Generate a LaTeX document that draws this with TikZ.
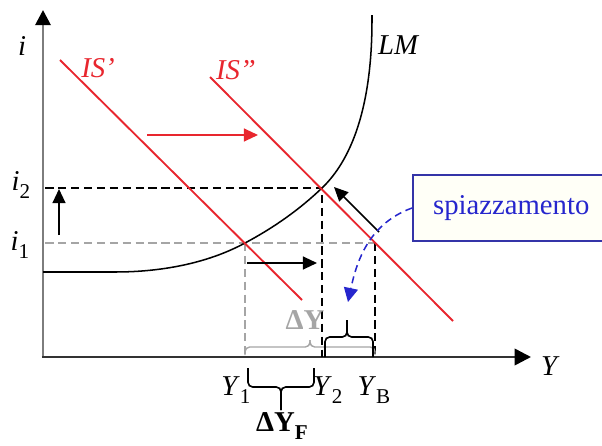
\documentclass[tikz,border=0pt]{standalone}
\usepackage{fontspec}
\setmainfont{Liberation Serif}
\usetikzlibrary{arrows.meta, positioning, calc}

\definecolor{isred}{RGB}{232,38,46}
\definecolor{boxblue}{RGB}{52,52,168}
\definecolor{txtblue}{RGB}{38,38,205}
\definecolor{axgray}{RGB}{125,125,125}
\definecolor{dimgray}{RGB}{165,165,165}

\newcommand{\lowsub}[1]{\raisebox{-0.3em}{\fontsize{18}{18}\selectfont #1}}
% square brace: [style]{x1}{x2}{xtip}{ybase}{yflat}{ytip}
\newcommand{\sqbrace}[7][]{%
  \draw[#1, rounded corners=4pt] (#2,#5) -- (#2,#6) -- (#4,#6) -- (#4,#7);
  \draw[#1, rounded corners=4pt] (#4,#7) -- (#4,#6) -- (#3,#6) -- (#3,#5);}

\begin{document}
\begin{tikzpicture}[x=0.03cm, y=-0.03cm,
  lbl/.style={font=\fontsize{24.5}{28}\selectfont, inner sep=1pt},
  var/.style={lbl, font=\fontsize{24.5}{28}\selectfont\itshape},
  isline/.style={isred, line width=1.6pt},
  guide/.style={dash pattern=on 7pt off 4pt, line width=1pt},
  movearr/.style={-{Triangle[length=12pt, width=11pt]}, line width=1.4pt},
]
\useasboundingbox (0,0) rectangle (602,446);

% ---- points -------------------------------------------------------------
\coordinate (O) at (43,357);
\coordinate (ytop) at (43,10);
\coordinate (xend) at (531,357);
\coordinate (E1) at (245,243);
\coordinate (E2) at (322,188);
\coordinate (EB) at (375,243);

% ---- axes ---------------------------------------------------------------
\draw[axgray, line width=2.4pt, -{Triangle[black, length=13pt, width=13pt]}]
  (O) -- (ytop);
\draw[black!80, line width=2.2pt, -{Triangle[black, length=14pt, width=14pt]}]
  ([xshift=-1pt]O) -- (xend);

% ---- guides -------------------------------------------------------------
\draw[guide] ([xshift=2pt]O |- E2) -- (E2) -- (E2 |- O);
\draw[guide, dimgray] ([xshift=2pt]O |- E1) -- (EB);
\draw[guide, dimgray] (E1) -- (E1 |- O);
\draw[guide] (EB) -- (EB |- O);

% ---- curves -------------------------------------------------------------
\draw[line width=1.3pt] (43,272) -- (115,272)
  .. controls (165,272) and (210,262) .. (E1)
  .. controls (275,227) and (300,209) .. (E2)
  .. controls (345,166) and (372,120) .. (372,20) -- (372,15);
\draw[isline] (60,60) -- (302,300);
\draw[isline] (210,77) -- (453,321);

% ---- shifts -------------------------------------------------------------
\coordinate (isA) at (147,135);
\coordinate (isB) at (258,135);
\draw[movearr, isred] (isA) -- (isB);
\coordinate (upA) at (59,235);
\coordinate (upB) at (59,189);
\draw[movearr] (upA) -- (upB);
\coordinate (rtA) at (247,263);
\coordinate (rtB) at (317,263);
\draw[movearr] (rtA) -- (rtB);
\coordinate (dgA) at (379,232);
\coordinate (dgB) at (334,187);
\draw[movearr] (dgA) -- (dgB);

% ---- braces -------------------------------------------------------------
\sqbrace[dimgray, line width=1.2pt]{245}{375}{310}{355}{347}{340}
\sqbrace[line width=1.4pt]{325}{373}{347}{357}{337}{320}
\sqbrace[line width=1.4pt]{248}{314}{281}{368}{387}{410}

% ---- labels -------------------------------------------------------------
\node[var] (ilab) at (22,46) {i};
\node[lbl] (i2lab) at (21,185) {\textit{i}\lowsub{2}};
\node[lbl] (i1lab) at (20,245) {\textit{i}\lowsub{1}};
\node[var] (ylab) at (549,366) {Y};
\node[lbl] (y1lab) at (236,390) {\textit{Y}\lowsub{1}};
\node[lbl] (y2lab) at (328,390) {\textit{Y}\lowsub{2}};
\node[lbl] (yblab) at (374,390) {\textit{Y}\lowsub{B}};
\node[var, text=isred] (is1lab) at (98,68) {IS'};
\node[var, text=isred] (is2lab) at (236,70) {IS''};
\node[var] (lmlab) at (398,45) {LM};
\node[lbl, text=dimgray, font=\fontsize{24.5}{28}\selectfont\bfseries] (dylab) at (305,320) {ΔY};
\node[lbl, font=\fontsize{24.5}{28}\selectfont\bfseries] (dyflab) at (282,426) {ΔY\lowsub{F}};

% ---- callout ------------------------------------------------------------
\node[draw=boxblue, line width=1.5pt, fill=yellow!3, text=txtblue, lbl,
      minimum width=168pt, minimum height=56pt, anchor=west]
  (spiaz) at (412,208) {spiazzamento};
\coordinate (crowd) at (348,302);
\draw[txtblue, line width=1.3pt, dash pattern=on 6pt off 4pt,
      -{Triangle[length=12pt, width=12pt]}]
  (spiaz.west) to[out=200, in=78] (crowd);

\end{tikzpicture}
\end{document}
